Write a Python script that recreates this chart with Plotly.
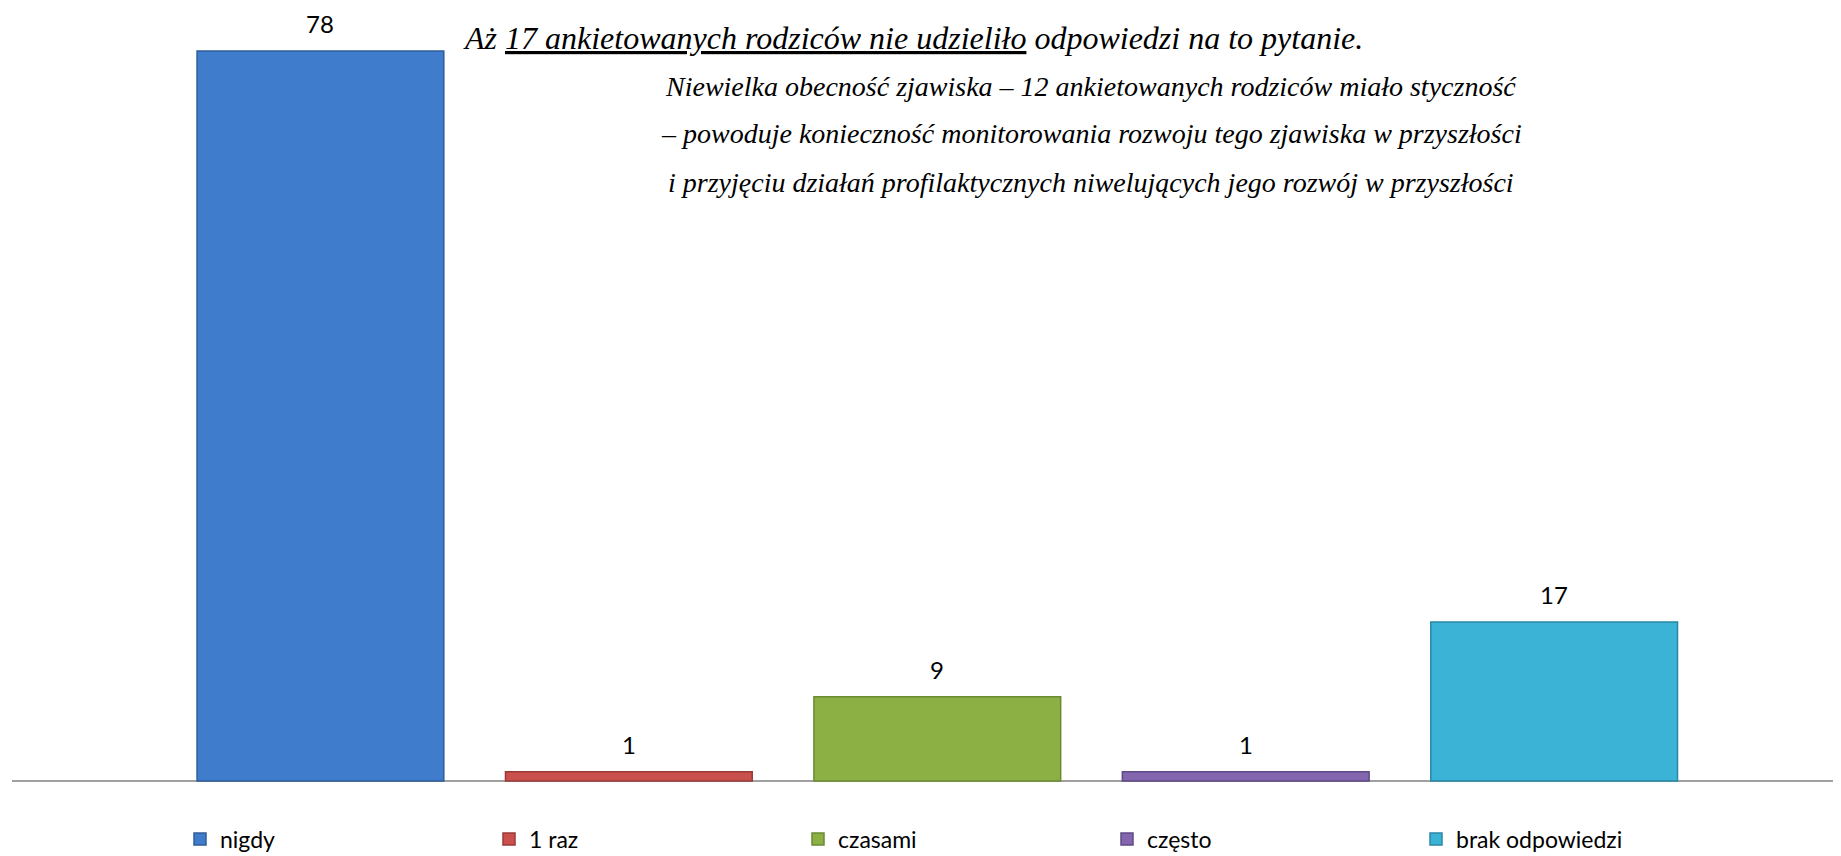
import plotly.graph_objects as go

# ---- data ----
categories = ["nigdy", "1 raz", "czasami", "często", "brak odpowiedzi"]
values = [78, 1, 9, 1, 17]
colors = ["#3F7CCB", "#C9504D", "#8CB044", "#8466AE", "#3BB3D7"]
edge_colors = ["#2F5C9A", "#9A3A38", "#6A8A32", "#5F4A86", "#2A88A6"]

note_line1 = "Aż <u>17 ankietowanych rodziców nie udzieliło</u> odpowiedzi na to pytanie."
note_lines = [
    "Niewielka obecność zjawiska – 12 ankietowanych rodziców miało styczność",
    "– powoduje konieczność monitorowania rozwoju tego zjawiska w przyszłości",
    "i przyjęciu działań profilaktycznych niwelujących jego rozwój w przyszłości",
]

# ---- layout geometry (pixels; the page body adds an 8px offset) ----
OFF = 8
W, H = 1841 - OFF, 856 - OFF
ML, MR, MT, MB = 12 - OFF, 0, 22, 0
PW, PH = W - ML - MR, H - MT - MB
BASE_Y = 781 - OFF          # pixel row of value 0
PX_PER_UNIT = 9.36


def px_x(x):
    return (x - OFF - ML) / PW


def px_y(y):
    return (H - MB - (y - OFF)) / PH


fig = go.Figure()
for cat, val, col, ecol in zip(categories, values, colors, edge_colors):
    fig.add_trace(go.Bar(
        x=[cat], y=[val], name=cat,
        marker=dict(color=col, line=dict(color=ecol, width=1.5)),
        width=0.8,
        hoverinfo="x+y",
    ))
    fig.add_annotation(
        x=cat, y=val, xref="x", yref="y",
        text=str(val), showarrow=False,
        yanchor="bottom", yshift=11,
        font=dict(family="Lato, Open Sans, sans-serif", size=24, color="#000000"),
    )

serif = "Liberation Serif, DejaVu Serif, serif"
fig.add_annotation(
    x=px_x(913), y=px_y(38), xref="paper", yref="paper",
    text="<i>" + note_line1 + "</i>", showarrow=False,
    xanchor="center", yanchor="middle",
    font=dict(family=serif, size=32, color="#000000"),
)
for i, line in enumerate(note_lines):
    fig.add_annotation(
        x=px_x(1091), y=px_y(86 + 48 * i), xref="paper", yref="paper",
        text="<i>" + line + "</i>", showarrow=False,
        xanchor="center", yanchor="middle",
        font=dict(family=serif, size=28, color="#000000"),
    )

y_min = -(H - MB - BASE_Y) / PX_PER_UNIT
y_max = (BASE_Y - MT) / PX_PER_UNIT

fig.update_layout(
    width=W, height=H,
    margin=dict(l=ML, r=MR, t=MT, b=MB, pad=0, autoexpand=False),
    paper_bgcolor="white", plot_bgcolor="white",
    barmode="overlay",
    showlegend=True,
    legend=dict(
        orientation="h",
        x=px_x(180), y=px_y(839),
        xanchor="left", yanchor="middle",
        entrywidth=264, entrywidthmode="pixels",
        font=dict(family="Lato, Open Sans, sans-serif", size=23, color="#000000"),
        bgcolor="rgba(0,0,0,0)",
        traceorder="normal",
    ),
    xaxis=dict(
        type="category", categoryorder="array", categoryarray=categories,
        range=[-1.0, 4.93],
        showticklabels=False, ticks="",
        showgrid=False, zeroline=False,
        showline=False,
    ),
    yaxis=dict(
        range=[y_min, y_max], visible=False, showgrid=False, zeroline=False,
    ),
    bargap=0.2,
)

# baseline axis line
fig.add_shape(
    type="line", xref="paper", yref="y",
    x0=0, x1=1, y0=0, y1=0,
    line=dict(color="#A0A0A0", width=2),
    layer="below",
)

fig.write_html("out.html")
